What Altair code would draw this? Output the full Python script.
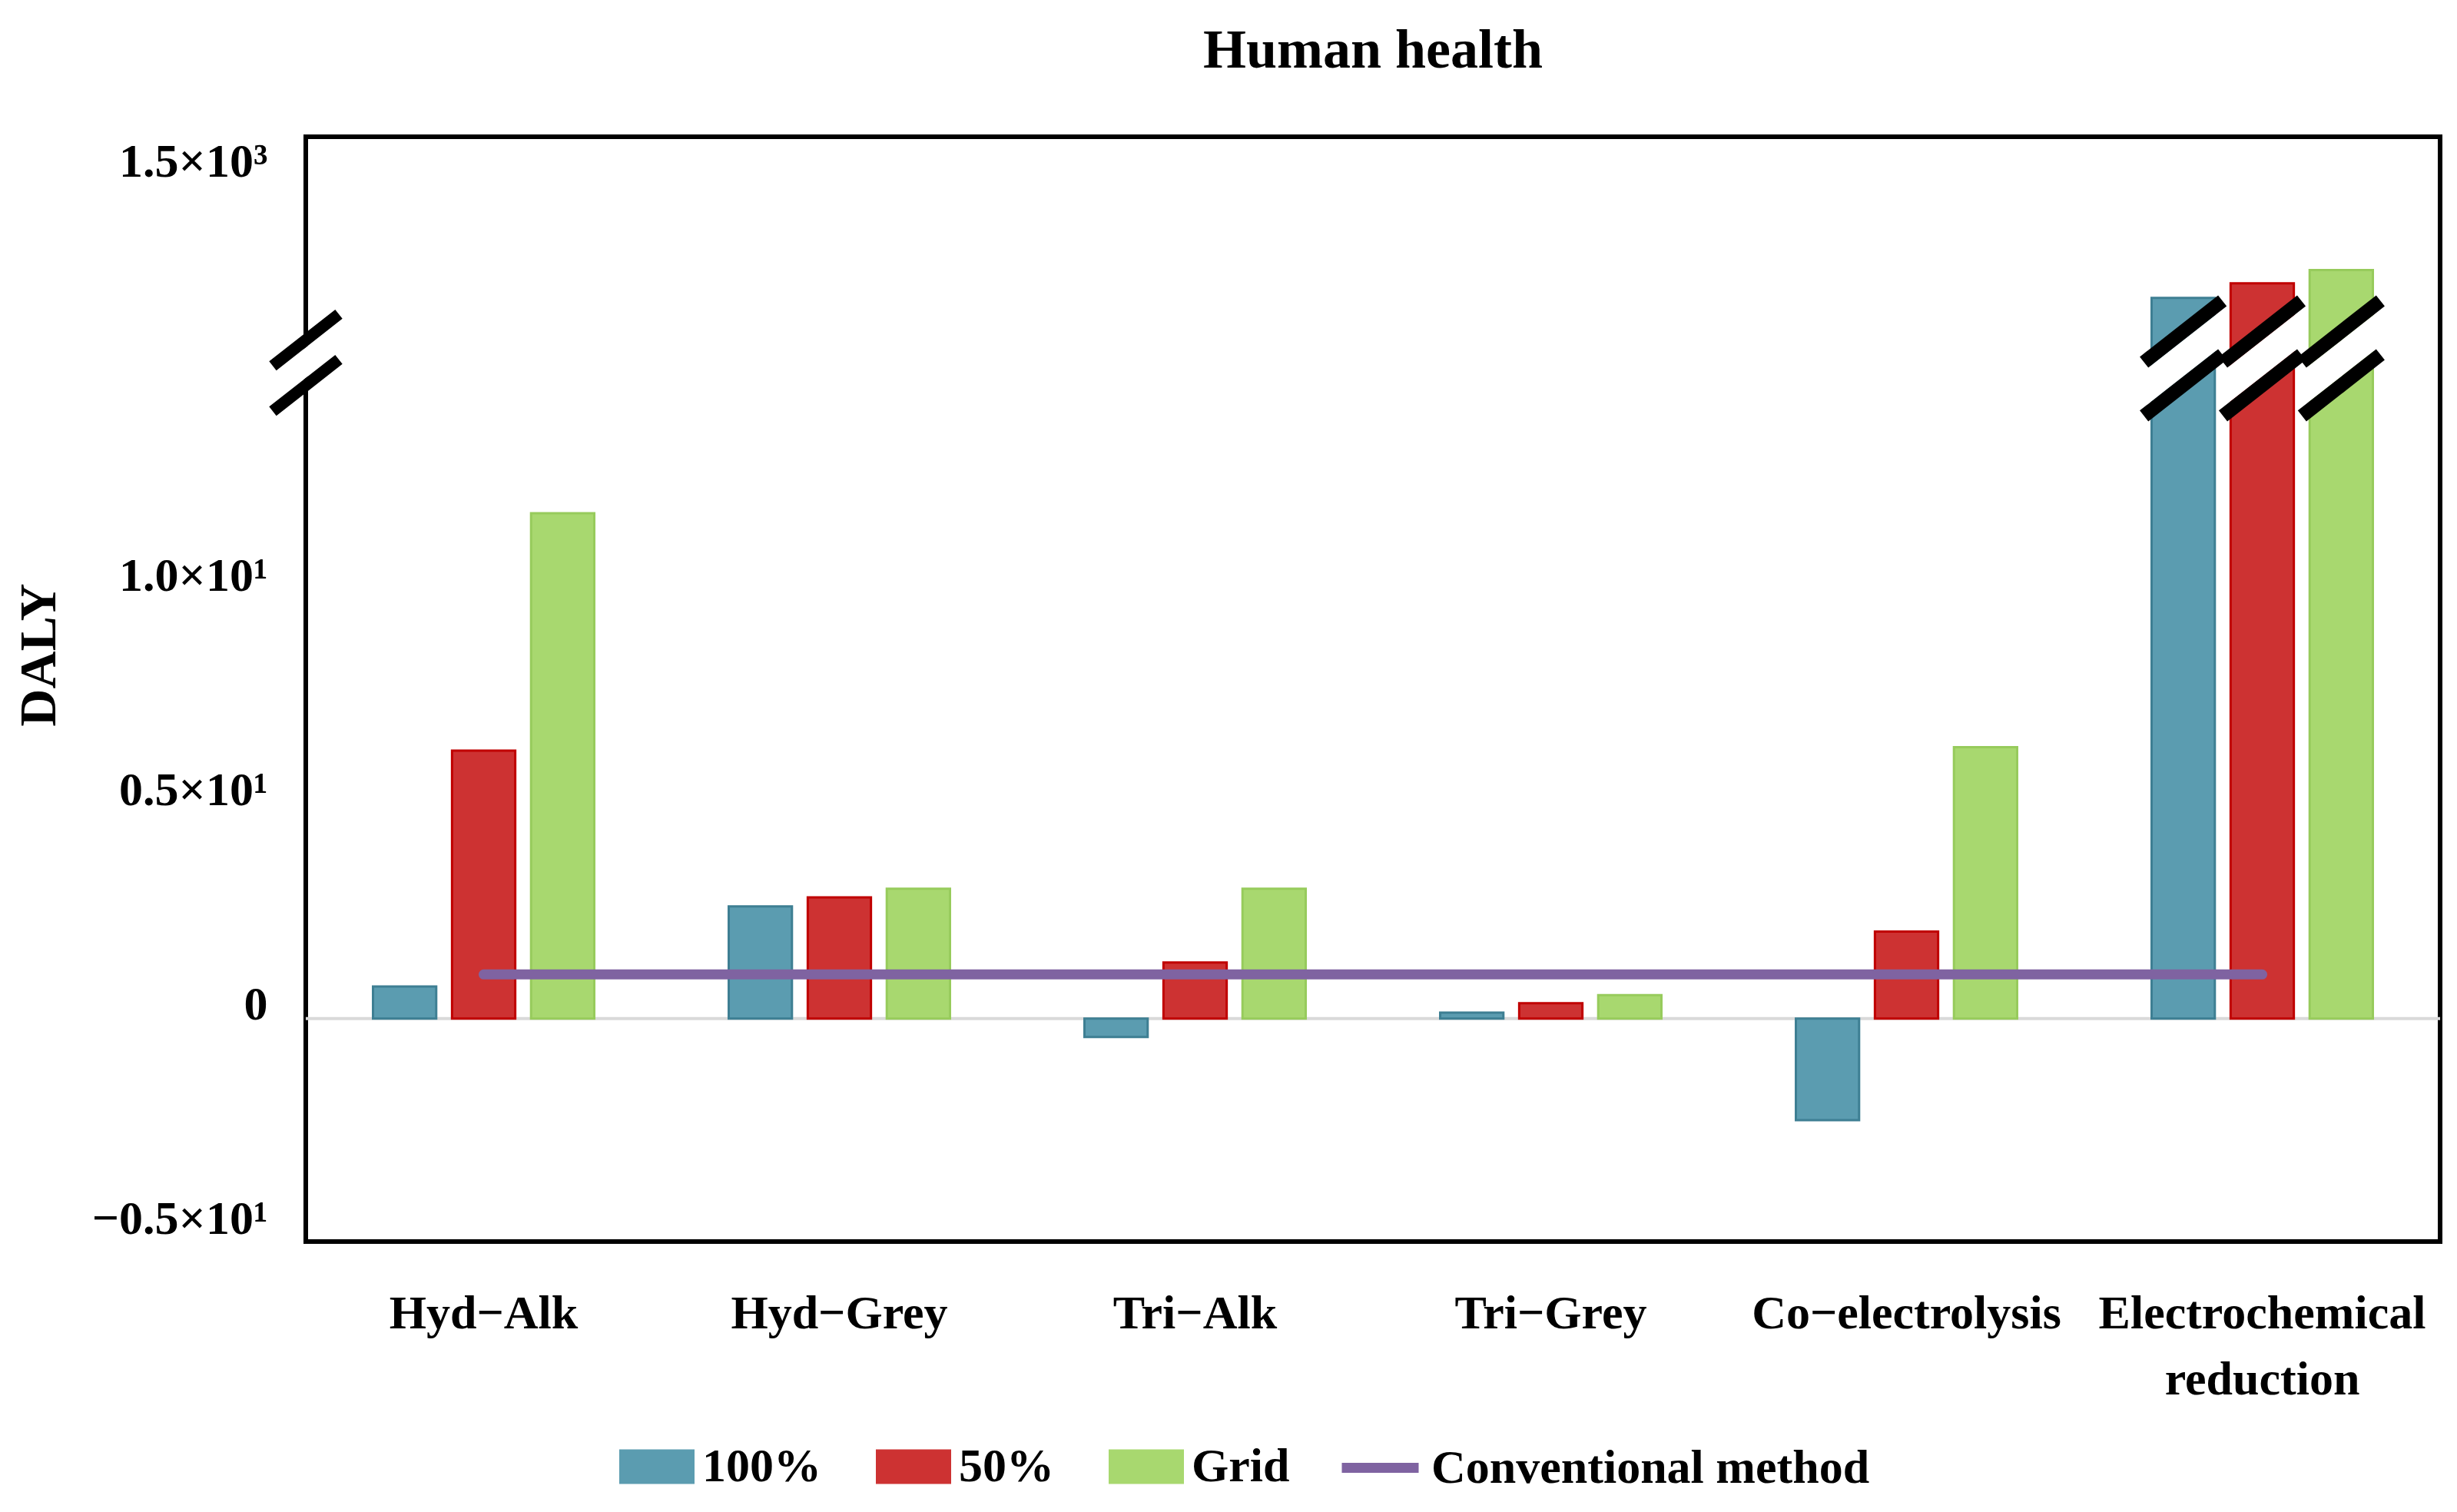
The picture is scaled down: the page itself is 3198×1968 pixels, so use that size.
import altair as alt
import pandas as pd

# ---------------- data ----------------
categories = ["Hyd−Alk", "Hyd−Grey", "Tri−Alk", "Tri−Grey", "Co−electrolysis", "Electrochemical reduction"]
series = ["100%", "50%", "Grid"]
v100 = [0.75, 2.62, -0.43, 0.14, -2.37, 1215]
v50 = [6.25, 2.83, 1.31, 0.36, 2.03, 1249]
vgrid = [11.79, 3.03, 3.03, 0.55, 6.33, 1280]
conventional = [1.03, 1.03, 1.03, 1.03, 1.03, 1.03]
conv_name = "Conventional method"

tick_values = [-5, 0, 5, 10, 1500]
tick_labels = ["−0.5×10¹", "0", "0.5×10¹", "1.0×10¹", "1.5×10³"]

fills = ["#5B9CB0", "#CD3232", "#A8D86F"]
strokes = ["#3E7F93", "#C00000", "#97CB5C"]
purple = "#7F63A1"

# broken-axis mapping (upper segment)
UPPER_TICK = 1500.0      # value shown at top label
UPPER_TICK_D = 19.66     # display position of that label
UPPER_PER_UNIT = 100.0   # data units per display unit above the break
BREAK_THRESHOLD = 100.0
BREAK_BAR = 15.4
BREAK_AXIS = 15.3


def to_display(v):
    return v if v <= BREAK_THRESHOLD else UPPER_TICK_D - (UPPER_TICK - v) / UPPER_PER_UNIT


disp_expr = (f"datum.value > {BREAK_THRESHOLD} ? {UPPER_TICK_D} - ({UPPER_TICK} - datum.value) / {UPPER_PER_UNIT}"
             f" : datum.value")

disp_ticks = [to_display(v) for v in tick_values]
label_expr = "''"
for dv, lab in reversed(list(zip(disp_ticks, tick_labels))):
    label_expr = f"abs(datum.value - {dv}) < 0.01 ? '{lab}' : ({label_expr})"

rows = []
for s, vals in zip(series, [v100, v50, vgrid]):
    for c, v in zip(categories, vals):
        rows.append({"cat": c, "series": s, "value": v})
df = pd.DataFrame(rows)
conv_df = pd.DataFrame({"cat": categories, "d": conventional, "name": [conv_name] * len(categories)})

FONT = "Liberation Serif"

# shapes (unit coordinates, scaled by sqrt(size)/2)
RECT = "M-1,-0.46L1,-0.46L1,0.46L-1,0.46Z"
SLASHES = ("M-1.109,-0.041L0.891,-1.609L1.109,-1.331L-0.891,0.237Z"
           "M-1.109,1.331L0.891,-0.237L1.109,0.041L-0.891,1.609Z")
GAP = "M-0.891,0.237L1.109,-1.331L0.891,-0.237L-1.109,1.331Z"

y_scale = alt.Scale(domain=[-5.2, 20.57], nice=False, zero=False)
x_enc = alt.X(
    "cat:N", sort=categories,
    scale=alt.Scale(paddingInner=0.378, paddingOuter=0.189),
    axis=alt.Axis(title=None, ticks=False, domain=False, grid=False, labelAngle=0,
                  labelPadding=63, labelLineHeight=86, labelFont=FONT, labelFontSize=62,
                  labelFontWeight="bold", labelColor="black", labelLimit=1000,
                  labelExpr="split(datum.label, ' ')"),
)
xoff_enc = alt.XOffset("series:N", sort=series, scale=alt.Scale(paddingInner=0.2, paddingOuter=0))
y_enc = alt.Y(
    "d:Q", scale=y_scale,
    axis=alt.Axis(title="DALY", values=disp_ticks, labelExpr=label_expr, ticks=False, domain=False,
                  grid=False, labelPadding=50, labelOffset=-18, labelFont=FONT, labelFontSize=62,
                  labelFontWeight="bold", labelColor="black", labelLimit=1000,
                  titleFont=FONT, titleFontSize=68, titleFontWeight="bold", titleColor="black",
                  titleX=-347, titleY=674, titleAngle=270, titleAlign="center", titleBaseline="middle"),
)

zero_rule = alt.Chart(pd.DataFrame({"z": [0]})).mark_rule(color="#D9D9D9", strokeWidth=4).encode(
    y=alt.datum(0, scale=y_scale)
)

bars = alt.Chart(df).transform_calculate(d=disp_expr).mark_bar(strokeWidth=3).encode(
    x=x_enc,
    xOffset=xoff_enc,
    y=y_enc,
    color=alt.Color("series:N", sort=series, scale=alt.Scale(domain=series, range=fills),
                    legend=alt.Legend(orient="none", legendX=408, legendY=1682, direction="horizontal",
                                      title=None, symbolType=RECT, symbolSize=9604, symbolStrokeWidth=0,
                                      symbolOpacity=1, labelFont=FONT, labelFontSize=62,
                                      labelFontWeight="bold", labelColor="black", columnPadding=71,
                                      labelOffset=10, padding=0, labelLimit=1000)),
    stroke=alt.Stroke("series:N", sort=series, scale=alt.Scale(domain=series, range=strokes), legend=None),
)

line = alt.Chart(conv_df).mark_line(strokeWidth=13, strokeCap="round").encode(
    x=alt.X("cat:N", sort=categories),
    y=alt.Y("d:Q", scale=y_scale, title="DALY"),
    stroke=alt.Stroke("name:N", scale=alt.Scale(domain=[conv_name], range=[purple]),
                      legend=alt.Legend(orient="none", legendX=1342, legendY=1676, title=None,
                                        symbolType="stroke", symbolSize=10000, symbolStrokeWidth=13,
                                        labelFont=FONT, labelFontSize=62, labelFontWeight="bold",
                                        labelColor="black", labelOffset=10, padding=0, labelLimit=1000)),
)

broken = alt.Chart(df).transform_filter(f"datum.value > {BREAK_THRESHOLD}")
bar_gap = broken.mark_point(shape=GAP, filled=True, color="white", size=10404, opacity=1, strokeWidth=0).encode(
    x=alt.X("cat:N", sort=categories), xOffset=alt.XOffset("series:N", sort=series),
    y=alt.datum(BREAK_BAR, scale=y_scale),
)
bar_slash = broken.mark_point(shape=SLASHES, filled=True, color="black", size=10404, opacity=1, strokeWidth=0).encode(
    x=alt.X("cat:N", sort=categories), xOffset=alt.XOffset("series:N", sort=series),
    y=alt.datum(BREAK_BAR, scale=y_scale),
)

axis_base = alt.Chart(pd.DataFrame({"k": [0]}))
axis_gap = axis_base.mark_point(shape=GAP, filled=True, color="white", size=7396, opacity=1, strokeWidth=0).encode(
    x=alt.value(0), y=alt.datum(BREAK_AXIS, scale=y_scale)
)
axis_slash = axis_base.mark_point(shape=SLASHES, filled=True, color="black", size=7396, opacity=1, strokeWidth=0).encode(
    x=alt.value(0), y=alt.datum(BREAK_AXIS, scale=y_scale)
)

chart = alt.layer(zero_rule, bars, line, bar_gap, bar_slash, axis_gap, axis_slash).resolve_scale(
    stroke="independent"
).properties(
    width=2778, height=1438,
    padding={"left": 390, "top": 170, "right": 14, "bottom": 344},
    autosize=alt.AutoSizeParams(type="none"),
    background="white",
    title=alt.TitleParams("Human health", font=FONT, fontSize=72, fontWeight="bold", color="black",
                          offset=75, anchor="middle"),
).configure_view(stroke="black", strokeWidth=6)

chart.save("out.html", embed_options={"renderer": "svg", "actions": False})
